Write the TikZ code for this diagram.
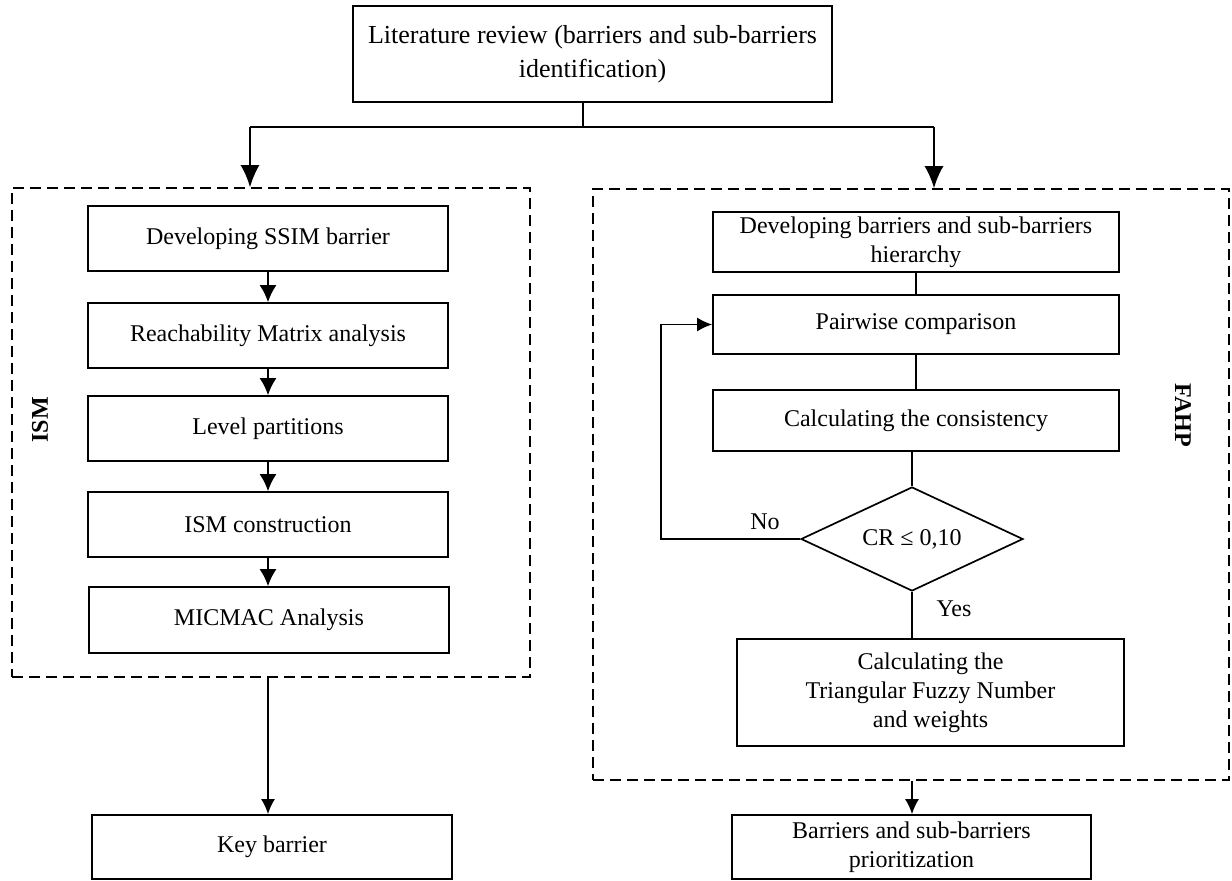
\documentclass[tikz,border=0pt]{standalone}
\usepackage{fontspec}
\setmainfont{Liberation Serif}
\usetikzlibrary{shapes.geometric,arrows.meta,calc}
\begin{document}
\begin{tikzpicture}[x=1pt,y=-1pt,
  every node/.style={font=\fontsize{24}{29}\selectfont},
  box/.style={draw, line width=1.7pt, inner sep=0pt, align=center},
  ln/.style={line width=1.7pt},
  arr/.style={line width=1.7pt, -{Latex[length=15pt,width=14pt]}},
  arrl/.style={line width=1.7pt, -{Latex[length=17pt,width=17pt]}},
  bigarr/.style={line width=1.7pt, -{Latex[length=22pt,width=19pt]}},
  dbox/.style={draw, line width=1.7pt, dash pattern=on 11pt off 6pt, inner sep=0pt},
  lbl/.style={font=\fontsize{24}{29}\selectfont\bfseries}]
\useasboundingbox (0,0) rectangle (1232,881);

% top
\node[box, minimum width=479, minimum height=96, font=\fontsize{26}{34}\selectfont] (top) at (592.5,54)
  {Literature review (barriers and sub-barriers\\identification)};

% dashed groups
\node[dbox, minimum width=518, minimum height=489] (ismbox) at (271,432.5) {};
\node[dbox, minimum width=636, minimum height=591] (fahpbox) at (911,484.5) {};

% ISM column
\node[box, minimum width=360, minimum height=65] (l1) at (268,238.5) {Developing SSIM barrier};
\node[box, minimum width=360, minimum height=65] (l2) at (268,335.5) {Reachability Matrix analysis};
\node[box, minimum width=360, minimum height=65] (l3) at (268,428.5) {Level partitions};
\node[box, minimum width=360, minimum height=65] (l4) at (268,524.5) {ISM construction};
\node[box, minimum width=360, minimum height=66] (l5) at (269,620) {MICMAC Analysis};
\node[lbl, rotate=90] (ism) at (40,420) {ISM};

\node[box, minimum width=360, minimum height=64] (key) at (272,847) {Key barrier};

% FAHP column
\node[box, minimum width=406, minimum height=60] (r1) at (916,242) {Developing barriers and sub-barriers\\hierarchy};
\node[box, minimum width=406, minimum height=59] (r2) at (916,324.5) {Pairwise comparison};
\node[box, minimum width=406, minimum height=61] (r3) at (916,420.5) {Calculating the consistency};
\node[draw, line width=1.7pt, shape=diamond, minimum width=222, minimum height=104, inner sep=0pt, aspect=2.13] (dia) at (912,539) {CR ≤ 0,10};
\node[box, minimum width=387, minimum height=107] (tfn) at (930.5,692.5) {Calculating the\\Triangular Fuzzy Number\\and weights};
\node[lbl, rotate=-90] (fahp) at (1183,415) {FAHP};

\node[box, minimum width=359, minimum height=64] (fin) at (911.5,847) {Barriers and sub-barriers\\prioritization};

\node (no) at (765,522) {No};
\node (yes) at (954,609) {Yes};

% connectors
\coordinate (split) at (583,127);
\coordinate (L) at (250,127);
\coordinate (R) at (934,127);
\coordinate (loop) at (661,539);

\draw[ln] (split |- top.south) -- (split);
\draw[ln] (L) -- (R);
\draw[bigarr] (L) -- (L |- ismbox.north);
\draw[bigarr] (R) -- (R |- fahpbox.north);

\draw[arrl] (l1) -- (l2);
\draw[arrl] (l2) -- (l3);
\draw[arrl] (l3) -- (l4);
\draw[arrl] (l4.south) -- (l4.south |- l5.north);
\draw[arr] (ismbox.south -| l4) -- (key.north -| l4);

\draw[ln] (r1) -- (r2);
\draw[ln] (r2) -- (r3);
\draw[ln] (r3.south -| dia.north) -- (dia.north);
\draw[ln] (dia.south) -- (tfn.north -| dia.south);
\draw[arr] (dia.west) -- (loop) |- (r2.west);
\draw[arr] (fahpbox.south -| dia) -- (fin.north -| dia);
\end{tikzpicture}
\end{document}
